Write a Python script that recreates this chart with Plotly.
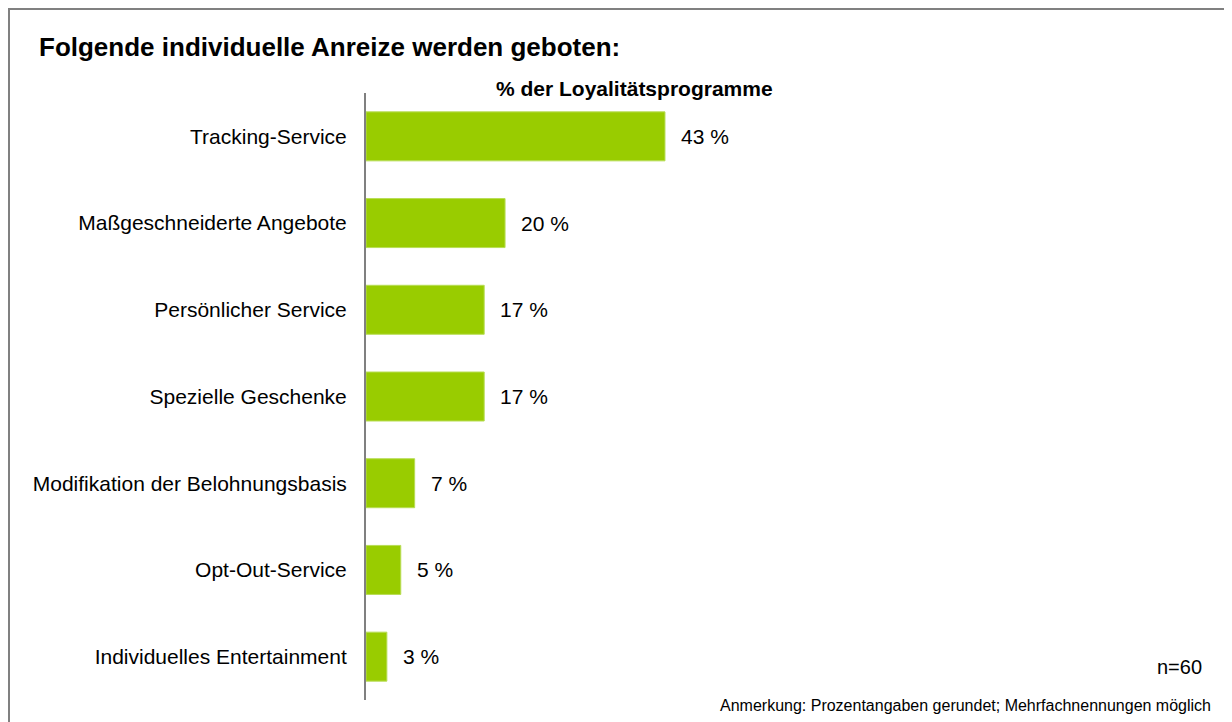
import plotly.graph_objects as go

# Daten
kategorien = [
    "Tracking-Service",
    "Maßgeschneiderte Angebote",
    "Persönlicher Service",
    "Spezielle Geschenke",
    "Modifikation der Belohnungsbasis",
    "Opt-Out-Service",
    "Individuelles Entertainment",
]
werte = [43, 20, 17, 17, 7, 5, 3]
wert_labels = ["43 %", "20 %", "17 %", "17 %", "7 %", "5 %", "3 %"]

W, H = 1232, 722
FONT = "Liberation Sans, Arial, sans-serif"
GREEN = "#99CC00"
AX_X = 358          # position of the category axis line (px in figure)
PX_PER_PCT = 6.953

fig = go.Figure()
fig.add_trace(go.Bar(
    x=werte,
    y=kategorien,
    orientation="h",
    marker=dict(color=GREEN, line=dict(color="#B8DD55", width=1)),
    hoverinfo="skip",
))

# value labels to the right of the bars
for k, v, t in zip(kategorien, werte, wert_labels):
    fig.add_annotation(x=v, y=k, text=t, xref="x", yref="y",
                       xanchor="left", yanchor="middle", xshift=14, showarrow=False,
                       font=dict(size=21, color="#000000", family=FONT))

fig.update_layout(
    width=W, height=H,
    margin=dict(l=0, r=0, t=0, b=0),
    paper_bgcolor="white", plot_bgcolor="white",
    showlegend=False,
    bargap=0.435,
    font=dict(family=FONT, color="#000000"),
    xaxis=dict(domain=[AX_X / W, 1], range=[0, (W - AX_X) / PX_PER_PCT],
               showgrid=False, zeroline=False, showticklabels=False, showline=False),
    yaxis=dict(domain=[1 - 692 / H, 1 - 85 / H], range=[6.5, -0.5],
               showgrid=False, zeroline=False, showline=True, linecolor="#808080", linewidth=2,
               ticks="", ticklabelstandoff=13, tickfont=dict(size=21, family=FONT)),
)

# frame around the chart
fig.add_shape(type="rect", xref="paper", yref="paper",
              x0=1 / W, x1=1.02, y0=-0.02, y1=1 - 1 / H,
              line=dict(color="#808080", width=2), fillcolor="rgba(0,0,0,0)")

fig.add_annotation(x=29 / W, y=1 - 39 / H, xref="paper", yref="paper", xanchor="left", yanchor="middle",
                   text="<b>Folgende individuelle Anreize werden geboten:</b>", showarrow=False,
                   font=dict(size=26, family=FONT))
fig.add_annotation(x=626 / W, y=1 - 80 / H, xref="paper", yref="paper", xanchor="center", yanchor="middle",
                   text="<b>% der Loyalitätsprogramme</b>", showarrow=False,
                   font=dict(size=21, family=FONT))
fig.add_annotation(x=1196 / W, y=1 - 659 / H, xref="paper", yref="paper", xanchor="right", yanchor="middle",
                   text="n=60", showarrow=False, font=dict(size=20, family=FONT))
fig.add_annotation(x=1205 / W, y=1 - 697 / H, xref="paper", yref="paper", xanchor="right", yanchor="middle",
                   text="Anmerkung: Prozentangaben gerundet; Mehrfachnennungen möglich", showarrow=False,
                   font=dict(size=16, family=FONT))

fig.write_html("out.html")
